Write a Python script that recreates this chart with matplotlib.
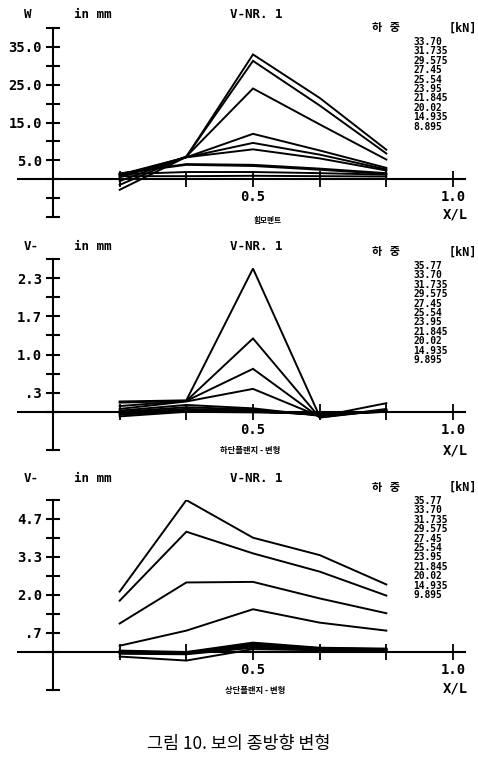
import numpy as np
import matplotlib
matplotlib.use("Agg")
import matplotlib.pyplot as plt
from matplotlib.ticker import FixedLocator

W, H = 478, 764
mono = ["DejaVu Sans Mono", "Noto Sans CJK KR"]
kor = ["Noto Sans CJK KR", "DejaVu Sans"]

# measuring points along the beam (x/L)
x_pos = [1/6, 2/6, 3/6, 4/6, 5/6]

# panel 1 - W in mm (moment)
loads1 = ["33.70", "31.735", "29.575", "27.45", "25.54", "23.95",
          "21.845", "20.02", "14.935", "8.895"]
w_33_70 = [-2.8, 5.9, 33.0, 21.5, 7.8]
w_31_735 = [-1.5, 6.0, 31.3, 19.5, 6.8]
w_29_575 = [-0.5, 6.0, 24.0, 14.5, 5.2]
w_27_45 = [0.5, 5.8, 12.0, 7.6, 3.0]
w_25_54 = [1.0, 5.8, 9.6, 6.5, 2.6]
w_23_95 = [1.2, 5.8, 7.9, 5.5, 2.3]
w_21_845 = [1.5, 4.0, 3.8, 2.8, 1.6]
w_20_02 = [1.5, 3.8, 3.5, 2.5, 1.4]
w_14_935 = [1.3, 1.9, 1.9, 1.6, 1.2]
w_8_895 = [0.8, 0.8, 0.9, 0.8, 0.7]
series1 = [w_33_70, w_31_735, w_29_575, w_27_45, w_25_54, w_23_95,
           w_21_845, w_20_02, w_14_935, w_8_895]

# panel 2 - V in mm, lower flange
loads2 = ["35.77", "33.70", "31.735", "29.575", "27.45", "25.54", "23.95",
          "21.845", "20.02", "14.935", "9.895"]
lo_35_77 = [0.18, 0.20, 2.50, -0.08, 0.15]
lo_33_70 = [0.16, 0.19, 1.28, -0.10, 0.05]
lo_31_735 = [0.10, 0.19, 0.75, -0.10, 0.03]
lo_29_575 = [0.05, 0.18, 0.40, -0.08, 0.02]
lo_27_45 = [0.02, 0.12, 0.06, -0.07, 0.02]
lo_25_54 = [0.00, 0.08, 0.04, -0.06, 0.01]
lo_23_95 = [-0.01, 0.05, 0.02, -0.05, 0.01]
lo_21_845 = [-0.02, 0.03, 0.01, -0.05, 0.00]
lo_20_02 = [-0.03, 0.02, 0.00, -0.04, 0.00]
lo_14_935 = [-0.05, 0.01, 0.00, -0.03, 0.00]
lo_9_895 = [-0.08, 0.00, -0.01, -0.02, 0.00]
series2 = [lo_35_77, lo_33_70, lo_31_735, lo_29_575, lo_27_45, lo_25_54,
           lo_23_95, lo_21_845, lo_20_02, lo_14_935, lo_9_895]

# panel 3 - V in mm, upper flange
loads3 = loads2
up_35_77 = [2.12, 5.33, 4.01, 3.40, 2.37]
up_33_70 = [1.80, 4.22, 3.46, 2.82, 1.98]
up_31_735 = [1.00, 2.44, 2.46, 1.88, 1.36]
up_29_575 = [0.22, 0.75, 1.50, 1.03, 0.75]
up_27_45 = [0.05, 0.00, 0.33, 0.15, 0.12]
up_25_54 = [0.02, -0.02, 0.30, 0.13, 0.10]
up_23_95 = [0.00, -0.03, 0.27, 0.12, 0.10]
up_21_845 = [-0.02, -0.05, 0.24, 0.10, 0.08]
up_20_02 = [-0.04, -0.06, 0.20, 0.10, 0.08]
up_14_935 = [-0.06, -0.08, 0.15, 0.08, 0.06]
up_9_895 = [-0.16, -0.30, 0.10, 0.06, 0.05]
series3 = [up_35_77, up_33_70, up_31_735, up_29_575, up_27_45, up_25_54,
           up_23_95, up_21_845, up_20_02, up_14_935, up_9_895]

# y ticks: labelled ones and the plain ones between
yt1 = [5, 15, 25, 35]
yt1_lab = ["5.0", "15.0", "25.0", "35.0"]
yt1_minor = [-10, -5, 0, 10, 20, 30, 40]
yt2 = [1/3, 1, 5/3, 7/3]
yt2_lab = [".3", "1.0", "1.7", "2.3"]
yt2_minor = [-2/3, 0, 2/3, 4/3, 2, 8/3]
yt3 = [2/3, 2, 10/3, 14/3]
yt3_lab = [".7", "2.0", "3.3", "4.7"]
yt3_minor = [-4/3, 0, 4/3, 8/3, 4, 16/3]

xt = [1/6, 2/6, 3/6, 4/6, 5/6, 1.0]
xt_lab = ["", "", "0.5", "", "", "1.0"]

fig = plt.figure(figsize=(W/100, H/100), dpi=100)
fig.patch.set_facecolor("white")


def px(x, y):
    return x / W, 1 - y / H


def make_panel(top, bottom, series, ylim, yt, yt_lab, yt_minor):
    l, _ = px(18, 0)
    r, _ = px(465, 0)
    ax = fig.add_axes([l, 1 - bottom/H, r - l, (bottom - top)/H])
    ax.set_facecolor("none")
    for s in series:
        ax.plot(x_pos, s, color="black", lw=1.4, solid_joinstyle="miter")
    ax.set_xlim(-0.0875, 1.03)
    ax.set_ylim(*ylim)
    ax.spines["top"].set_visible(False)
    ax.spines["right"].set_visible(False)
    ax.spines["left"].set_position(("data", 0))
    ax.spines["bottom"].set_position(("data", 0))
    ax.spines["left"].set_linewidth(1.5)
    ax.spines["bottom"].set_linewidth(1.5)
    ax.set_yticks(yt)
    ax.set_yticklabels(yt_lab, family=mono, fontsize=10, fontweight="bold")
    ax.yaxis.set_minor_locator(FixedLocator(yt_minor))
    ax.set_xticks(xt)
    ax.set_xticklabels(xt_lab, family=mono, fontsize=10, fontweight="bold")
    ax.tick_params(axis="y", which="both", direction="inout", length=10,
                   width=1.5, pad=3)
    ax.tick_params(axis="x", which="both", direction="inout", length=11,
                   width=1.3, pad=2.5)
    return ax


ax1 = make_panel(28, 217, series1, (-10, 40), yt1, yt1_lab, yt1_minor)
ax2 = make_panel(259, 450, series2, (-2/3, 8/3), yt2, yt2_lab, yt2_minor)
ax3 = make_panel(500, 690, series3, (-4/3, 16/3), yt3, yt3_lab, yt3_minor)


def head(y, ylab, loads, ly, sub_y):
    fig.text(*px(24, y), ylab, family=mono, fontsize=9, fontweight="bold",
             va="center")
    fig.text(*px(74, y), "in mm", family=mono, fontsize=9,
             fontweight="bold", va="center")
    fig.text(*px(256, y), "V-NR. 1", family=mono, fontsize=9,
             fontweight="bold", va="center", ha="center")
    fig.text(*px(372, ly), "하   중", family=kor, fontsize=8,
             fontweight="bold", va="center")
    fig.text(*px(477, ly), "[kN]", family=mono, fontsize=8.5,
             fontweight="bold", va="center", ha="right")
    for i, lab in enumerate(loads):
        fig.text(*px(413, ly + 14 + i * 9.4), lab, family=mono, fontsize=6.9,
                 fontweight="bold", va="center")
    fig.text(*px(455, sub_y), "X/L", family=mono, fontsize=10,
             fontweight="bold", va="center", ha="center")


head(15, "W", loads1, 28, 214)
head(247, "V-", loads2, 252, 451)
head(479, "V-", loads3, 487, 688)

fig.text(*px(268, 220), "휨모멘트", family=kor, fontsize=5.5,
         fontweight="bold", va="center", ha="center")
fig.text(*px(250, 451), "하단플랜지 - 변형", family=kor, fontsize=6,
         fontweight="bold", va="center", ha="center")
fig.text(*px(255, 690), "상단플랜지 - 변형", family=kor, fontsize=6,
         fontweight="bold", va="center", ha="center")

fig.text(*px(239, 744), "그림 10. 보의 종방향 변형", family=kor, fontsize=12.5,
         va="center", ha="center")

fig.savefig("out.png", dpi=100)
